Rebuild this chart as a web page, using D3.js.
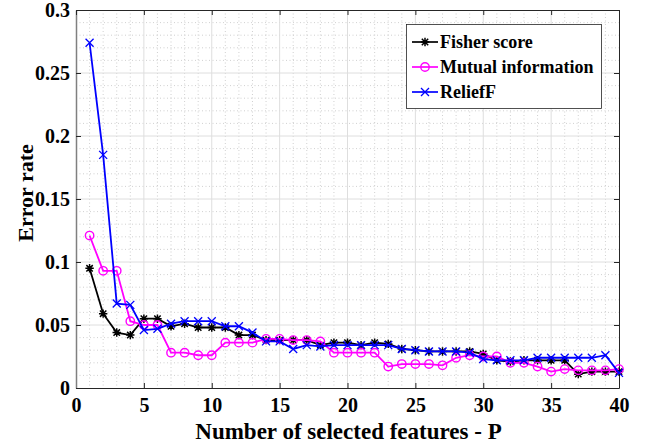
<!DOCTYPE html>
<html>
<head>
<meta charset="utf-8">
<script src="https://cdn.jsdelivr.net/npm/d3@7"></script>
<style>
  html, body { margin: 0; padding: 0; background: #fff; }
  svg { display: block; }
  text { font-family: "Liberation Serif", "Times New Roman", serif; font-weight: bold; fill: #000; }
</style>
</head>
<body>
<svg id="chart" width="645" height="445"></svg>
<script>
// ---- data ----
const features = d3.range(1, 41);
const fisherScore = [0.095,0.059,0.044,0.042,0.055,0.055,0.049,0.051,0.048,0.048,
                     0.048,0.042,0.042,0.038,0.038,0.038,0.038,0.034,0.036,0.036,
                     0.034,0.036,0.035,0.031,0.030,0.029,0.029,0.029,0.029,0.027,
                     0.022,0.021,0.022,0.022,0.022,0.022,0.011,0.013,0.013,0.013];
const mutualInfo  = [0.121,0.093,0.093,0.053,0.050,0.050,0.028,0.028,0.026,0.026,
                     0.036,0.036,0.036,0.039,0.039,0.038,0.038,0.037,0.028,0.028,
                     0.028,0.028,0.017,0.019,0.019,0.019,0.018,0.024,0.026,0.025,
                     0.025,0.020,0.020,0.017,0.013,0.015,0.014,0.014,0.014,0.015];
const reliefF     = [0.274,0.185,0.067,0.066,0.046,0.047,0.051,0.053,0.053,0.053,
                     0.049,0.049,0.044,0.037,0.037,0.031,0.034,0.033,0.034,0.034,
                     0.034,0.034,0.034,0.031,0.030,0.029,0.029,0.029,0.028,0.023,
                     0.022,0.022,0.022,0.024,0.024,0.024,0.024,0.024,0.026,0.012];
const xTicks = [0,5,10,15,20,25,30,35,40];
const yTicks = [0,0.05,0.1,0.15,0.2,0.25,0.3];
const yTickLabels = ["0","0.05","0.1","0.15","0.2","0.25","0.3"];
const seriesNames = ["Fisher score","Mutual information","ReliefF"];

// ---- layout ----
const L = 76, R = 619, T = 10, B = 388;
const svg = d3.select("#chart");
const x = d3.scaleLinear().domain([0,40]).range([L,R]);
const y = d3.scaleLinear().domain([0,0.3]).range([B,T]);

// grid minor
const xMinor = d3.range(1,40).filter(v => v % 5 !== 0);
const yMinor = d3.range(1,30).map(v => v/100).filter(v => Math.round(v*100) % 5 !== 0);
const g = svg.append("g");
g.selectAll(".xm").data(xMinor).join("line")
  .attr("x1", d=>x(d)).attr("x2", d=>x(d)).attr("y1", T).attr("y2", B)
  .attr("stroke", "#c4c4c4").attr("stroke-width", 0.8).attr("stroke-dasharray", "1,2.5");
g.selectAll(".ym").data(yMinor).join("line")
  .attr("y1", d=>y(d)).attr("y2", d=>y(d)).attr("x1", L).attr("x2", R)
  .attr("stroke", "#c4c4c4").attr("stroke-width", 0.8).attr("stroke-dasharray", "1,2.5");
// grid major
g.selectAll(".xM").data(xTicks.slice(1,-1)).join("line")
  .attr("x1", d=>x(d)).attr("x2", d=>x(d)).attr("y1", T).attr("y2", B)
  .attr("stroke", "#dedede").attr("stroke-width", 1);
g.selectAll(".yM").data(yTicks.slice(1,-1)).join("line")
  .attr("y1", d=>y(d)).attr("y2", d=>y(d)).attr("x1", L).attr("x2", R)
  .attr("stroke", "#dedede").attr("stroke-width", 1);

// axes via d3 axis (inward ticks)
const axB = svg.append("g").attr("transform", `translate(0,${B})`)
  .call(d3.axisBottom(x).tickValues(xTicks).tickSizeInner(-5).tickSizeOuter(0).tickPadding(10).tickFormat(d3.format("d")));
const axL = svg.append("g").attr("transform", `translate(${L},0)`)
  .call(d3.axisLeft(y).tickValues(yTicks).tickSizeInner(-5).tickSizeOuter(0).tickPadding(6).tickFormat((d,i)=>yTickLabels[i]));
const axT = svg.append("g").attr("transform", `translate(0,${T})`)
  .call(d3.axisTop(x).tickValues(xTicks).tickSizeInner(-5).tickSizeOuter(0).tickFormat(""));
const axR = svg.append("g").attr("transform", `translate(${R},0)`)
  .call(d3.axisRight(y).tickValues(yTicks).tickSizeInner(-5).tickSizeOuter(0).tickFormat(""));
[axB, axL, axT, axR].forEach(a => {
  a.attr("font-family", null).attr("font-size", null);
  a.select(".domain").attr("stroke", "#262626").attr("stroke-width", 1);
  a.selectAll(".tick line").attr("stroke", "#262626");
  a.selectAll("text").style("font-family", "'Liberation Serif', 'Times New Roman', serif").style("font-weight", "bold")
    .style("font-size", "20px").attr("fill", "#000");
});
axL.select(".domain").attr("stroke", "#808080").attr("stroke-width", 1.5);

// axis titles
svg.append("text").attr("x", (L+R)/2 + 1).attr("y", 439).attr("text-anchor", "middle")
  .style("font-size", "23px").text("Number of selected features - P");
svg.append("text").attr("transform", `translate(33,${(T+B)/2 - 6}) rotate(-90)`)
  .attr("text-anchor", "middle").style("font-size", "22px").text("Error rate");

// series
const series = [
  {name: seriesNames[0], values: fisherScore, color: "#000000", marker: "star"},
  {name: seriesNames[1], values: mutualInfo,  color: "#ff00ff", marker: "circle"},
  {name: seriesNames[2], values: reliefF,     color: "#0000ff", marker: "x"}
];
const line = d3.line().x((d,i)=>x(features[i])).y(d=>y(d));

function drawMarker(sel, type, color, cx, cy) {
  if (type === "circle") {
    sel.append("circle").attr("cx", cx).attr("cy", cy).attr("r", 4.2)
      .attr("fill", "none").attr("stroke", color).attr("stroke-width", 1.4);
  } else if (type === "x") {
    const s = 4;
    sel.append("path").attr("d", `M${cx-s},${cy-s}L${cx+s},${cy+s}M${cx-s},${cy+s}L${cx+s},${cy-s}`)
      .attr("stroke", color).attr("stroke-width", 1.3).attr("fill", "none");
  } else {
    const s = 4.2, d = 3.2;
    sel.append("path").attr("d",
      `M${cx-s},${cy}L${cx+s},${cy}M${cx},${cy-s}L${cx},${cy+s}M${cx-d},${cy-d}L${cx+d},${cy+d}M${cx-d},${cy+d}L${cx+d},${cy-d}`)
      .attr("stroke", color).attr("stroke-width", 1.5).attr("fill", "none");
  }
}

const plot = svg.append("g");
series.forEach(s => {
  const sg = plot.append("g");
  sg.append("path").datum(s.values).attr("d", line)
    .attr("fill", "none").attr("stroke", s.color).attr("stroke-width", 1.8);
  s.values.forEach((v,i) => drawMarker(sg, s.marker, s.color, x(features[i]), y(v)));
});

// legend
const lg = svg.append("g");
lg.append("rect").attr("x", 406.5).attr("y", 24.5).attr("width", 195).attr("height", 84)
  .attr("fill", "#fff").attr("stroke", "#262626").attr("stroke-width", 0.8);
series.forEach((s,i) => {
  const cy = 42 + i*25;
  lg.append("line").attr("x1", 412).attr("x2", 438).attr("y1", cy).attr("y2", cy)
    .attr("stroke", s.color).attr("stroke-width", 1.7);
  drawMarker(lg, s.marker, s.color, 425, cy);
  lg.append("text").attr("x", 440).attr("y", cy + 6).style("font-size", "18px").text(s.name);
});
</script>
</body>
</html>
